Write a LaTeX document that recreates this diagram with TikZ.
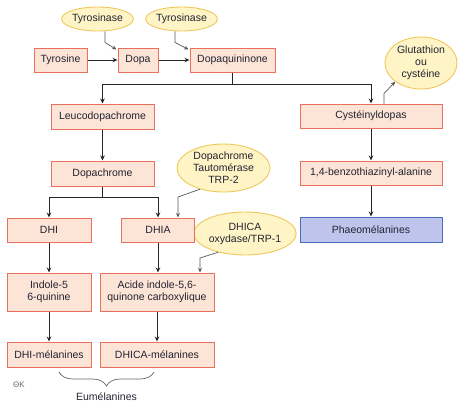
\documentclass[tikz,border=0pt]{standalone}
\usepackage{fontspec}
\setmainfont{Liberation Sans}
\usetikzlibrary{shapes.geometric,arrows.meta,decorations.pathreplacing,calc}
\definecolor{boxfill}{RGB}{252,228,214}
\definecolor{boxborder}{RGB}{232,112,92}
\definecolor{ellfill}{RGB}{255,244,198}
\definecolor{ellborder}{RGB}{238,200,92}
\definecolor{phfill}{RGB}{190,196,236}
\definecolor{phborder}{RGB}{70,110,190}
\definecolor{txt}{RGB}{35,35,50}
\begin{document}
\begin{tikzpicture}[x=1pt,y=-1pt,
  every node/.style={font=\fontsize{10.5}{12}\selectfont, text=txt},
  stepbox/.style={draw=boxborder, fill=boxfill, line width=1pt, inner sep=0pt, align=center},
  enzyme/.style={ellipse, draw=ellborder, fill=ellfill, line width=0.9pt, inner sep=0pt, align=center},
  flow/.style={draw=black!85, line width=1pt, -{Stealth[length=5pt,width=4.5pt]}},
  cat/.style={draw=black!65, line width=0.7pt, -{Stealth[length=4.5pt,width=4pt]}}
]
\useasboundingbox (0,0) rectangle (458,408);
% enzymes / cofactors
\node[enzyme, minimum width=70, minimum height=24] (tyr1) at (97.5,19) {Tyrosinase};
\node[enzyme, minimum width=70, minimum height=24] (tyr2) at (181.5,19) {Tyrosinase};
\node[enzyme, minimum width=72, minimum height=52] (glut) at (421,63) {Glutathion\\ou\\cystéine};
\node[enzyme, minimum width=93, minimum height=48] (dct) at (223.5,168) {Dopachrome\\Tautomérase\\TRP-2};
\node[enzyme, minimum width=94, minimum height=43] (dhica) at (245,233.5) {DHICA\\oxydase/TRP-1};
% boxes
\node[stepbox, minimum width=53, minimum height=24] (tyrosine) at (60.5,60) {Tyrosine};
\node[stepbox, minimum width=40, minimum height=24] (dopa) at (138,60) {Dopa};
\node[stepbox, minimum width=85, minimum height=24] (dopaq) at (232.5,60) {Dopaquininone};
\node[stepbox, minimum width=103, minimum height=25] (leuco) at (102.5,116.5) {Leucodopachrome};
\node[stepbox, minimum width=103, minimum height=25] (dopach) at (102.5,173.5) {Dopachrome};
\node[stepbox, minimum width=84, minimum height=24] (dhi) at (49,230) {DHI};
\node[stepbox, minimum width=73, minimum height=24] (dhia) at (158,230) {DHIA};
\node[stepbox, minimum width=84, minimum height=38] (indole) at (49,292) {Indole-5\\6-quinine};
\node[stepbox, minimum width=114, minimum height=38] (acide) at (157,292) {Acide indole-5,6-\\quinone carboxylique};
\node[stepbox, minimum width=84, minimum height=25] (dhimel) at (49,354.5) {DHI-mélanines};
\node[stepbox, minimum width=114, minimum height=25] (dhicamel) at (157,354.5) {DHICA-mélanines};
\node[stepbox, minimum width=142, minimum height=24] (cyst) at (371,116) {Cystéinyldopas};
\node[stepbox, minimum width=142, minimum height=24] (benzo) at (371,173) {1,4-benzothiazinyl-alanine};
\node[stepbox, draw=phborder, fill=phfill, minimum width=142, minimum height=25] (phaeo) at (371,229.5) {Phaeomélanines};
% main flow
\draw[flow] (tyrosine) -- (dopa);
\draw[flow] (dopa) -- (dopaq);
\coordinate (j1) at (232.5,84);
\draw[draw=black!85, line width=1pt] (dopaq.south) -- (j1);
\draw[flow] (j1) -| (leuco.north);
\draw[flow] (j1) -| (cyst.north);
\draw[flow] (leuco) -- (dopach);
\coordinate (j2) at (102.5,197);
\draw[draw=black!85, line width=1pt] (dopach.south) -- (j2);
\draw[flow] (j2) -| (dhi.north);
\draw[flow] (j2) -| (dhia.north);
\draw[flow] (dhi) -- (indole);
\draw[flow] (indole) -- (dhimel);
\draw[flow] (dhia.south) -- (dhia.south |- acide.north);
\draw[flow] (acide) -- (dhicamel);
\draw[flow] (cyst) -- (benzo);
\draw[flow] (benzo) -- (phaeo);
% catalysts
\draw[cat] ($(tyr1.south)+(7.5,0)$) -- ++(0,11) -- ($(dopa.north west)+(-1,2)$);
\draw[cat] ($(tyr2.south)+(-6.5,0)$) -- ++(0,11) -- ($(dopaq.north west)+(-1,2)$);
\draw[cat] ($(cyst.north)+(13,0)$) -- ++(0,-10) -- (glut.south west);
\coordinate (b1) at (178,197);
\draw[cat] (dct.222) -- (b1) -- (b1 |- dhia.north);
\coordinate (b2) at (200,258);
\draw[cat] (dhica.215) -- (b2) -- (b2 |- acide.north);
% brace
\coordinate (br1) at (59,372);
\coordinate (br2) at (154,372);
\draw[black!60, line width=0.7pt, decorate, decoration={brace, amplitude=14pt, aspect=0.5, mirror}] (br1) -- (br2);
\node (eum) at (106.5,397) {Eumélanines};
\node[font=\fontsize{8}{9}\selectfont, text=black!60] (sig) at (19,385) {ΘK};
\end{tikzpicture}
\end{document}
